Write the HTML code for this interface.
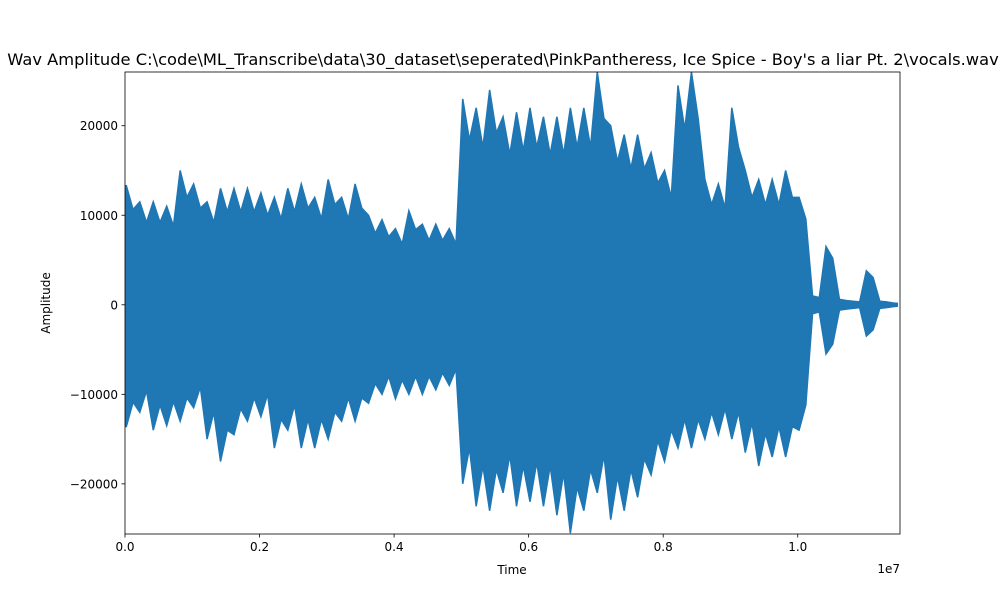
<!DOCTYPE html>
<html><head><meta charset="utf-8"><style>
body{margin:0;background:#fff;font-family:"Liberation Sans","DejaVu Sans",sans-serif;}
</style></head><body>
<svg id="chart" width="1000" height="600" xmlns="http://www.w3.org/2000/svg" font-family="DejaVu Sans, Liberation Sans, sans-serif">
<rect width="1000" height="600" fill="#fff"/>
<text x="503" y="65" text-anchor="middle" font-size="16.3">Wav Amplitude C:\code\ML_Transcribe\data\30_dataset\seperated\PinkPantheress, Ice Spice - Boy's a liar Pt. 2\vocals.wav</text>
<g id="plot"></g>
<g id="axes"></g>
<text x="512" y="574" text-anchor="middle" font-size="12">Time</text>
<text transform="translate(50,303) rotate(-90)" text-anchor="middle" font-size="12">Amplitude</text>
<text x="900" y="573" text-anchor="end" font-size="12">1e7</text>
</svg>
<script>
const binSize = 200000;
const maxVals = [13300,11500,11500,11000,15000,13500,11500,13000,13000,13000,12500,12000,13000,13500,12000,14000,12000,13500,10000,9500,8500,10500,9000,9000,8500,23000,22000,24000,21000,21500,22000,21000,21000,22000,22000,26000,20000,19000,19000,17000,15000,24500,26000,14000,13500,22000,15000,14000,14000,15000,12000,1000,6500,600,400,3800,400,200];
const minVals = [-13600,-12000,-14000,-13500,-13000,-11500,-15000,-17500,-14500,-13000,-12500,-16000,-14000,-16000,-16000,-15000,-13000,-13000,-11000,-10000,-10500,-10000,-10000,-9500,-9000,-20000,-22500,-23000,-21000,-22500,-22000,-22500,-23500,-25500,-23000,-21000,-24000,-23000,-21500,-19000,-17500,-16000,-16000,-15000,-14500,-15000,-16500,-18000,-17000,-17000,-14000,-1000,-5500,-600,-400,-3500,-400,-200];
const xTicks = [0,2000000,4000000,6000000,8000000,10000000];
const xTickLabels = ["0.0","0.2","0.4","0.6","0.8","1.0"];
const yTicks = [-20000,-10000,0,10000,20000];
const yTickLabels = ["\u221220000","\u221210000","0","10000","20000"];
const L=125,R=900,T=72,B=534, xMax=11520000, yMin=-25600, yMax=26000;
const X=v=>L+(v/xMax)*(R-L);
const Y=v=>B-(v-yMin)/(yMax-yMin)*(B-T);
const NS="http://www.w3.org/2000/svg";
const plot=document.getElementById('plot'), axes=document.getElementById('axes');
function mk(tag,attrs,parent){const e=document.createElementNS(NS,tag);for(const k in attrs)e.setAttribute(k,attrs[k]);parent.appendChild(e);return e;}
const defs=mk('defs',{},plot);
const cp=mk('clipPath',{id:'clip'},defs);
mk('rect',{x:L,y:T,width:R-L,height:B-T},cp);
let pts=[];
for(let i=0;i<maxVals.length;i++){const t0=i*binSize,t1=Math.min((i+1)*binSize,xMax);pts.push(X(t0+binSize*0.1)+','+Y(maxVals[i]));pts.push(X((t0+t1)/2+binSize*0.1)+','+Y(maxVals[i]*0.8));}
for(let i=minVals.length-1;i>=0;i--){const t0=i*binSize,t1=Math.min((i+1)*binSize,xMax);pts.push(X((t0+t1)/2+binSize*0.1)+','+Y(minVals[i]*0.8));pts.push(X(t0+binSize*0.1)+','+Y(minVals[i]));}
pts.unshift(X(0)+','+Y(maxVals[0]));pts.push(X(0)+','+Y(minVals[0]));
const wave=mk('polygon',{points:pts.join(' '),fill:'#1f77b4',stroke:'#1f77b4','stroke-width':1.5,'clip-path':'url(#clip)'},plot);


const frame=mk('rect',{x:L,y:T,width:R-L,height:B-T,fill:'none',stroke:'#000','stroke-width':0.8},axes);


xTicks.forEach((v,i)=>{const x=X(v);
 const tk=mk('line',{x1:x,x2:x,y1:B,y2:B+3.5,stroke:'#000','stroke-width':0.8},axes);
 
 
 const lb=mk('text',{x:x,y:B+17,'text-anchor':'middle','font-size':12},axes);lb.textContent=xTickLabels[i];
 
 
});
yTicks.forEach((v,i)=>{const y=Y(v);
 const tk=mk('line',{x1:L-3.5,x2:L,y1:y,y2:y,stroke:'#000','stroke-width':0.8},axes);
 
 
 const lb=mk('text',{x:L-7,y:y+4.5,'text-anchor':'end','font-size':12},axes);lb.textContent=yTickLabels[i];
 
 
});
</script>
</body></html>
